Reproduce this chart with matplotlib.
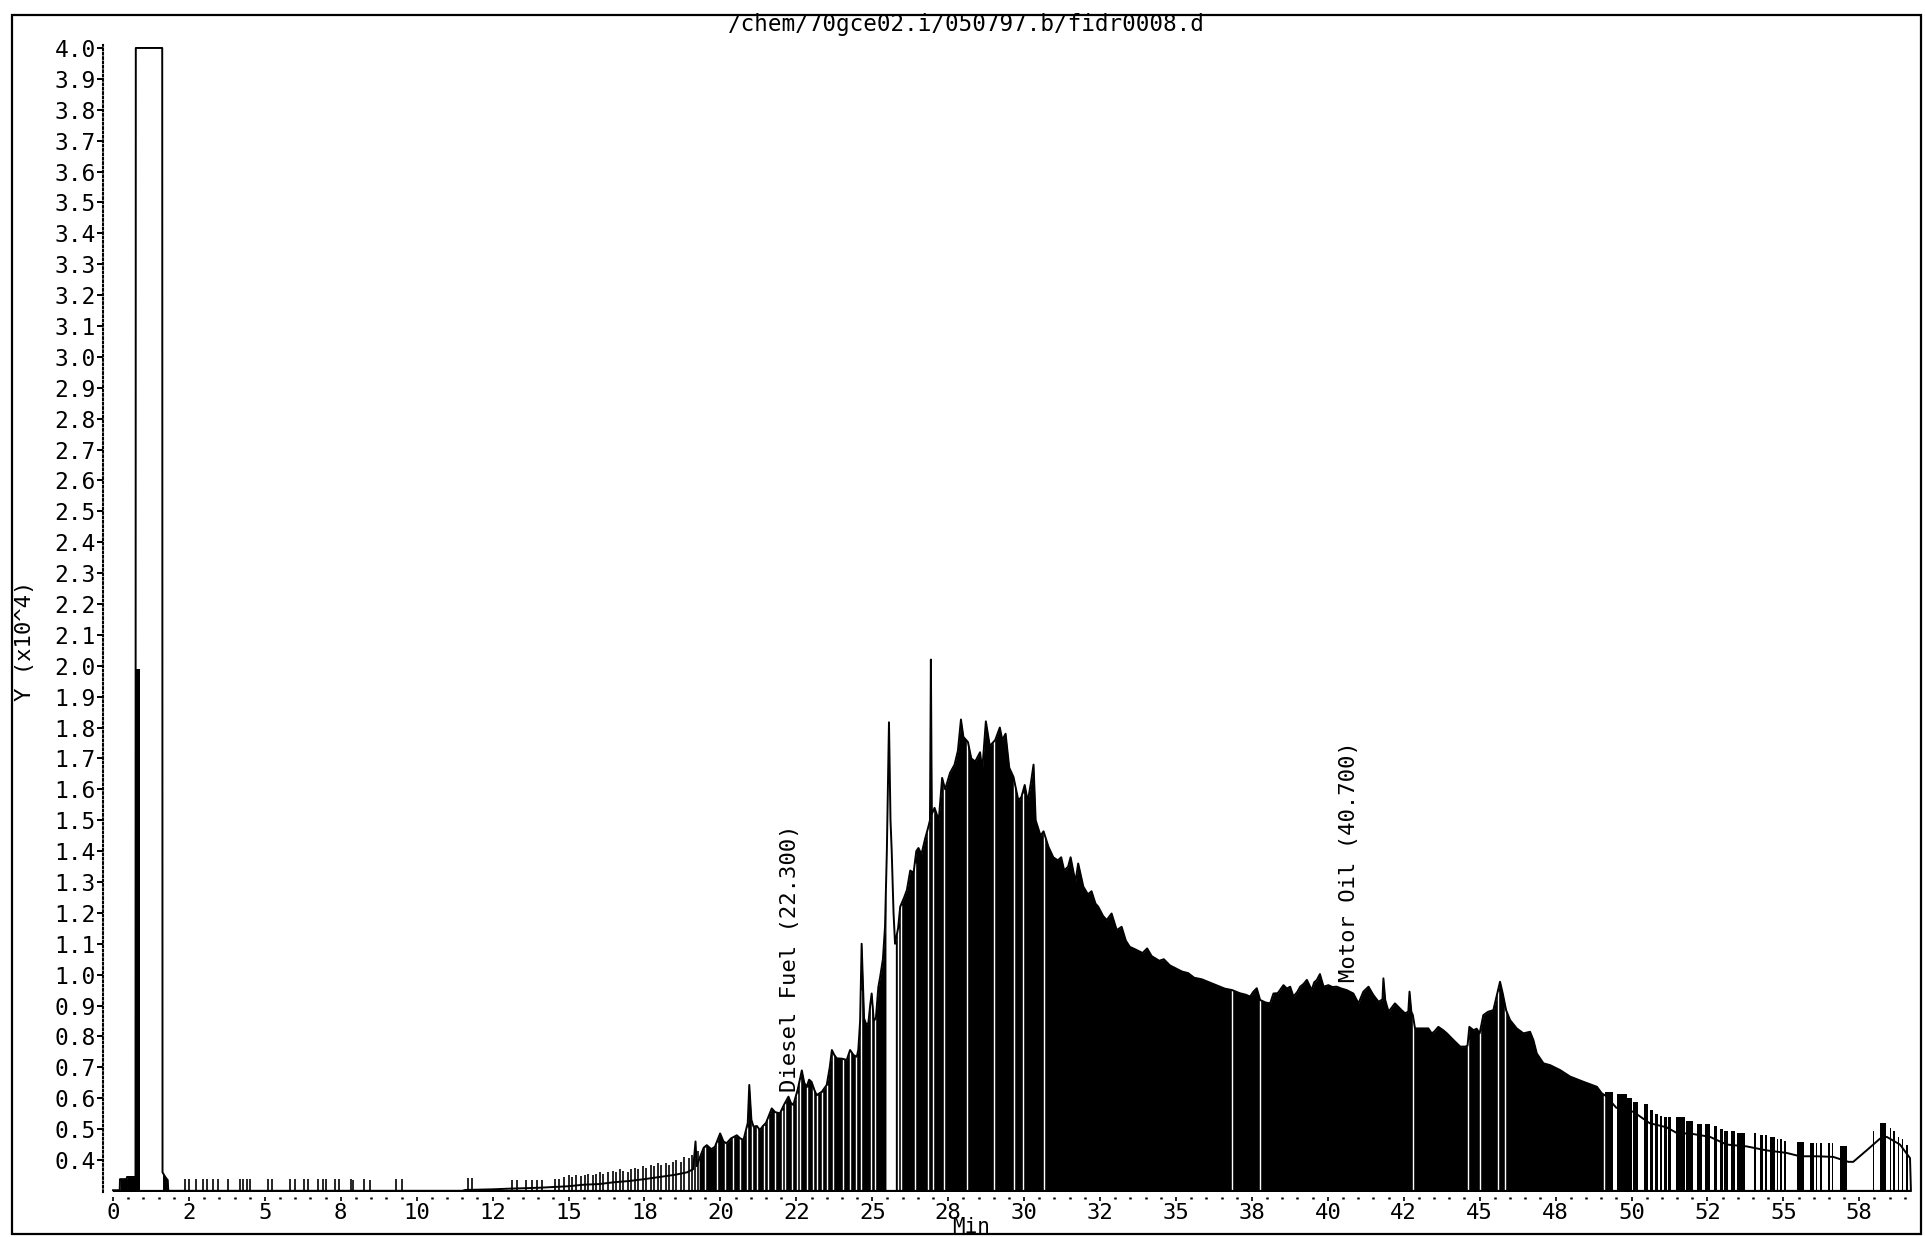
import numpy as np
import matplotlib
matplotlib.use('Agg')
import matplotlib.pyplot as plt
from matplotlib.patches import Rectangle
from matplotlib.ticker import MultipleLocator

plt.rcParams['font.family'] = ['DejaVu Sans Mono']

title = '/chem/70gce02.i/050797.b/fidr0008.d'

# trace: retention time (min), response (x10^4); 4.0 = off scale
trace = [
    (0.00, 0.302), (0.22, 0.302), (0.23, 0.338), (0.45, 0.338), (0.46, 0.345), (0.74, 0.345),
    (0.75, 4.000), (1.62, 4.000), (1.63, 0.360), (1.72, 0.345), (1.80, 0.335), (1.82, 0.300),
    (11.50, 0.300), (11.60, 0.303), (12.50, 0.305), (13.00, 0.307), (14.00, 0.310), (15.00, 0.315),
    (15.50, 0.320), (16.00, 0.322), (16.50, 0.328), (17.00, 0.332), (17.50, 0.338), (18.00, 0.345),
    (18.50, 0.352), (18.90, 0.360), (19.10, 0.370), (19.18, 0.460), (19.22, 0.380), (19.33, 0.410),
    (19.45, 0.440), (19.55, 0.448), (19.70, 0.435), (19.82, 0.443), (19.99, 0.486), (20.10, 0.460),
    (20.20, 0.454), (20.35, 0.470), (20.54, 0.480), (20.65, 0.470), (20.76, 0.465), (20.90, 0.520),
    (20.95, 0.643), (21.02, 0.530), (21.09, 0.508), (21.20, 0.510), (21.30, 0.497), (21.40, 0.510),
    (21.50, 0.520), (21.60, 0.545), (21.69, 0.567), (21.80, 0.555), (21.96, 0.551), (22.10, 0.580),
    (22.24, 0.605), (22.32, 0.585), (22.40, 0.578), (22.55, 0.630), (22.68, 0.690), (22.76, 0.650),
    (22.84, 0.637), (22.92, 0.660), (23.00, 0.653), (23.10, 0.625), (23.17, 0.610), (23.34, 0.621),
    (23.50, 0.643), (23.60, 0.700), (23.67, 0.756), (23.75, 0.740), (23.83, 0.729), (24.00, 0.728),
    (24.16, 0.724), (24.27, 0.756), (24.38, 0.740), (24.49, 0.734), (24.54, 0.756), (24.60, 0.850),
    (24.65, 1.100), (24.70, 0.950), (24.73, 0.858), (24.80, 0.840), (24.87, 0.842), (24.93, 0.900),
    (24.98, 0.939), (25.05, 0.850), (25.12, 0.860), (25.20, 0.960), (25.26, 0.993), (25.35, 1.050),
    (25.42, 1.155), (25.48, 1.400), (25.55, 1.817), (25.60, 1.500), (25.64, 1.400), (25.70, 1.200),
    (25.75, 1.100), (25.85, 1.150), (25.92, 1.220), (26.05, 1.250), (26.14, 1.274), (26.25, 1.337),
    (26.36, 1.330), (26.45, 1.400), (26.52, 1.410), (26.62, 1.390), (26.74, 1.440), (26.85, 1.480),
    (26.90, 1.500), (26.93, 2.020), (26.96, 1.520), (27.05, 1.540), (27.19, 1.500), (27.30, 1.637),
    (27.40, 1.600), (27.56, 1.653), (27.71, 1.680), (27.82, 1.725), (27.92, 1.826), (28.00, 1.770),
    (28.15, 1.753), (28.26, 1.700), (28.39, 1.690), (28.55, 1.720), (28.62, 1.660), (28.74, 1.820),
    (28.87, 1.740), (29.05, 1.760), (29.20, 1.800), (29.28, 1.760), (29.39, 1.780), (29.51, 1.670),
    (29.65, 1.640), (29.81, 1.564), (29.91, 1.575), (30.02, 1.614), (30.12, 1.560), (30.23, 1.625),
    (30.31, 1.680), (30.38, 1.500), (30.54, 1.450), (30.64, 1.464), (30.80, 1.414), (30.96, 1.380),
    (31.11, 1.370), (31.22, 1.380), (31.32, 1.337), (31.45, 1.350), (31.53, 1.380), (31.69, 1.300),
    (31.78, 1.360), (31.95, 1.285), (32.10, 1.260), (32.22, 1.270), (32.35, 1.230), (32.44, 1.220),
    (32.60, 1.190), (32.72, 1.177), (32.88, 1.198), (33.05, 1.144), (33.21, 1.155), (33.35, 1.110),
    (33.48, 1.090), (33.70, 1.080), (33.90, 1.070), (34.05, 1.085), (34.20, 1.060), (34.45, 1.045),
    (34.60, 1.050), (34.80, 1.030), (35.00, 1.020), (35.20, 1.010), (35.40, 1.005), (35.60, 0.990),
    (35.85, 0.985), (36.10, 0.975), (36.35, 0.965), (36.60, 0.955), (36.85, 0.950), (37.10, 0.940),
    (37.30, 0.935), (37.44, 0.929), (37.55, 0.945), (37.66, 0.956), (37.77, 0.918), (37.95, 0.910),
    (38.10, 0.907), (38.21, 0.939), (38.35, 0.940), (38.54, 0.966), (38.65, 0.955), (38.76, 0.961),
    (38.87, 0.929), (39.00, 0.945), (39.09, 0.961), (39.20, 0.970), (39.31, 0.983), (39.47, 0.950),
    (39.55, 0.975), (39.64, 0.983), (39.74, 1.002), (39.86, 0.961), (40.02, 0.966), (40.15, 0.960),
    (40.29, 0.961), (40.45, 0.955), (40.62, 0.950), (40.84, 0.939), (41.01, 0.907), (41.17, 0.945),
    (41.34, 0.961), (41.50, 0.934), (41.67, 0.912), (41.80, 0.920), (41.83, 0.988), (41.89, 0.918),
    (42.00, 0.880), (42.21, 0.907), (42.43, 0.885), (42.54, 0.875), (42.65, 0.880), (42.69, 0.945),
    (42.75, 0.880), (42.80, 0.869), (42.87, 0.826), (43.31, 0.826), (43.42, 0.810), (43.50, 0.815),
    (43.64, 0.831), (43.80, 0.820), (43.92, 0.810), (44.14, 0.788), (44.36, 0.767), (44.52, 0.767),
    (44.60, 0.770), (44.66, 0.831), (44.80, 0.820), (44.90, 0.825), (45.00, 0.810), (45.12, 0.869),
    (45.28, 0.880), (45.45, 0.885), (45.58, 0.939), (45.67, 0.977), (45.76, 0.939), (45.87, 0.885),
    (46.00, 0.853), (46.22, 0.826), (46.44, 0.810), (46.66, 0.815), (46.77, 0.788), (46.88, 0.745),
    (47.10, 0.713), (47.32, 0.707), (47.65, 0.691), (47.98, 0.670), (48.42, 0.653), (48.86, 0.637),
    (49.02, 0.616), (49.19, 0.605), (49.40, 0.580), (49.50, 0.569), (50.06, 0.556), (50.60, 0.519),
    (51.15, 0.506), (51.48, 0.488), (52.03, 0.484), (52.58, 0.475), (53.13, 0.450), (53.79, 0.444),
    (54.45, 0.431), (55.10, 0.423), (55.55, 0.412), (56.10, 0.412), (56.64, 0.410), (57.14, 0.394),
    (57.30, 0.394), (57.74, 0.431), (58.18, 0.469), (58.40, 0.475), (58.84, 0.450), (59.17, 0.406),
    (59.20, 0.300),
]

# integrated (filled) stretches of the trace, min
filled = [(0.23, 0.74), (1.63, 1.80), (19.30, 25.45), (25.76, 49.10)]

# white separators inside the filled stretches, min
gap_t = [19.49, 19.88, 20.15, 20.43, 20.65, 20.87, 21.03, 21.20, 21.42, 21.58, 21.80, 22.02,
         22.13, 22.35, 22.51, 22.62, 22.84, 23.06, 23.17, 23.34, 23.50,
         23.72, 24.05, 24.27, 24.45, 24.62, 24.95, 25.10, 25.85, 25.95, 26.40, 26.85, 27.00,
         27.35, 28.12, 29.02, 29.68, 29.95, 30.65, 36.83, 37.78, 42.80, 44.62, 45.02, 45.60,
         45.85, 49.10]

# peak marks near the baseline: time, top
mark_t = [2.36, 2.51, 2.73, 2.95, 3.10, 3.29, 3.47, 3.77, 4.17, 4.28, 4.40, 4.52, 5.10, 5.24,
          5.83, 5.98, 6.28, 6.43, 6.75, 6.90, 7.02, 7.31, 7.43, 7.83, 7.90, 8.27, 8.46, 9.32,
          9.53, 11.68, 11.82, 13.15, 13.29, 13.59, 13.81, 13.96, 14.11, 14.55, 14.70,
          14.85, 15.00, 15.10, 15.25, 15.40, 15.55, 15.65, 15.80, 15.90, 16.05, 16.15, 16.30,
          16.45, 16.55, 16.70, 16.80, 16.95, 17.05, 17.20, 17.30, 17.45, 17.55, 17.70, 17.80,
          17.95, 18.05, 18.20, 18.30, 18.45, 18.55, 18.70, 18.80, 18.95, 19.05, 19.15, 19.25]
mark_top = [0.338, 0.338, 0.338, 0.338, 0.338, 0.338, 0.338, 0.338, 0.338, 0.338, 0.338, 0.338,
            0.338, 0.338, 0.338, 0.338, 0.338, 0.338, 0.338, 0.338, 0.338, 0.338, 0.338, 0.338,
            0.335, 0.338, 0.335, 0.340, 0.340, 0.342, 0.342, 0.335, 0.335, 0.335, 0.335, 0.335,
            0.335, 0.338, 0.338,
            0.345, 0.350, 0.345, 0.350, 0.348, 0.350, 0.355, 0.350, 0.355, 0.360, 0.355, 0.360,
            0.365, 0.360, 0.370, 0.365, 0.360, 0.370, 0.375, 0.370, 0.380, 0.375, 0.385, 0.380,
            0.390, 0.385, 0.390, 0.385, 0.395, 0.400, 0.395, 0.410, 0.405, 0.415, 0.420, 0.430]

# drawn peak bars: start, end, top
bars = [(0.74, 0.89, 1.990),
        (49.12, 49.40, 0.619), (49.51, 49.84, 0.613), (49.86, 50.00, 0.600), (50.06, 50.22, 0.588),
        (50.42, 50.55, 0.582), (50.61, 50.72, 0.563), (50.77, 50.88, 0.550), (50.94, 51.02, 0.544),
        (51.08, 51.16, 0.538), (51.21, 51.29, 0.538), (51.46, 51.76, 0.538), (51.81, 52.01, 0.525),
        (52.14, 52.31, 0.516), (52.42, 52.58, 0.516), (52.71, 52.80, 0.509), (52.91, 53.00, 0.500),
        (53.04, 53.19, 0.494), (53.27, 53.41, 0.494), (53.48, 53.73, 0.488), (54.04, 54.10, 0.488),
        (54.23, 54.34, 0.481), (54.39, 54.47, 0.481), (54.56, 54.72, 0.475), (54.78, 54.83, 0.469),
        (54.89, 54.94, 0.469), (55.03, 55.09, 0.463), (55.27, 55.30, 0.469), (55.46, 55.68, 0.459),
        (55.88, 56.01, 0.454), (56.07, 56.12, 0.454), (56.20, 56.26, 0.454), (56.46, 56.53, 0.454),
        (56.59, 56.64, 0.454), (56.86, 57.10, 0.446), (57.94, 57.98, 0.494), (58.18, 58.38, 0.519),
        (58.51, 58.56, 0.505), (58.62, 58.67, 0.494), (58.76, 58.82, 0.475), (58.89, 58.95, 0.469),
        (59.04, 59.11, 0.450)]

annot_t = [22.3, 40.7]
annot_label = ['Diesel Fuel (22.300)', 'Motor Oil (40.700)']

x_ticks = [0, 2.5, 5, 7.5, 10, 12.5, 15, 17.5, 20, 22.5, 25, 27.5, 30, 32.5, 35, 37.5,
           40, 42.5, 45, 47.5, 50, 52.5, 55, 57.5]
x_labels = ['0', '2', '5', '8', '10', '12', '15', '18', '20', '22', '25', '28', '30', '32',
            '35', '38', '40', '42', '45', '48', '50', '52', '55', '58']
y_ticks = [round(0.4 + 0.1 * i, 1) for i in range(37)]

base = 0.300
y_lo, y_hi = 0.297, 4.008

W, H = 1925, 1237
fig = plt.figure(figsize=(W / 100, H / 100), dpi=100)
ax = fig.add_axes([103 / W, (H - 1191.8) / H, 1814 / W, 1146.3 / H])

pts = np.array(trace)
sig_t, sig_y = pts[:, 0], pts[:, 1]

# filled stretches: area under the trace between the stretch ends
for a, b in filled:
    inside = (sig_t > a) & (sig_t < b)
    seg_t = np.concatenate([[a], sig_t[inside], [b]])
    seg_y = np.concatenate([[np.interp(a, sig_t, sig_y)], sig_y[inside],
                            [np.interp(b, sig_t, sig_y)]])
    ax.fill_between(seg_t, base, seg_y, color='black', lw=0)

# white separators run from the baseline up to the trace
gaps = np.array(gap_t)
ax.vlines(gaps, base, np.interp(gaps, sig_t, sig_y), colors='white', lw=1.0)

ax.vlines(mark_t, base, mark_top, colors='black', lw=1.2)

bl = np.array([b[0] for b in bars])
br = np.array([b[1] for b in bars])
bt = np.array([b[2] for b in bars])
ax.bar(bl, bt - base, width=br - bl, bottom=base, align='edge', color='black', lw=0)

ax.plot(sig_t, sig_y, color='black', lw=1.4)
ax.hlines(base, sig_t[0], sig_t[-1], colors='black', lw=1.6)

for t, lab in zip(annot_t, annot_label):
    ax.annotate(lab, (t, np.interp(t, sig_t, sig_y)), xytext=(0, 7),
                textcoords='offset points', rotation=90, ha='center', va='bottom',
                fontsize=16)

ax.set_xlim(-0.33, 59.4)
ax.set_ylim(y_lo, y_hi)

ax.set_xticks(x_ticks, x_labels)
ax.xaxis.set_minor_locator(MultipleLocator(0.5))
ax.set_yticks(y_ticks, ['%.1f' % v for v in y_ticks])

ax.spines['top'].set_visible(False)
ax.spines['right'].set_visible(False)
ax.spines['bottom'].set_position(('outward', 4))
ax.spines['bottom'].set_visible(False)
ax.spines['left'].set_linestyle((0, (0.8, 1.3)))
ax.spines['left'].set_linewidth(1.5)

ax.tick_params(axis='x', which='major', direction='out', length=3, width=1.2, pad=0.8,
               labelsize=16)
ax.tick_params(axis='x', which='minor', direction='out', length=1.6, width=1.8)
ax.tick_params(axis='y', which='major', direction='out', length=4, width=1.4, pad=1.2,
               labelsize=16.5)

fig.text(966 / W, 1 - 25 / H, title, ha='center', va='center', fontsize=16.3)
fig.text(971 / W, 1 - 1227 / H, 'Min', ha='center', va='center', fontsize=15)
fig.text(25 / W, 1 - 641 / H, 'Y (x10^4)', ha='center', va='center', rotation=90,
         fontsize=16)

fig.add_artist(Rectangle((12 / W, 3 / H), 1909 / W, 1219 / H, transform=fig.transFigure,
                         fill=False, lw=1.6, ec='black'))

fig.savefig('out.png', dpi=100)
